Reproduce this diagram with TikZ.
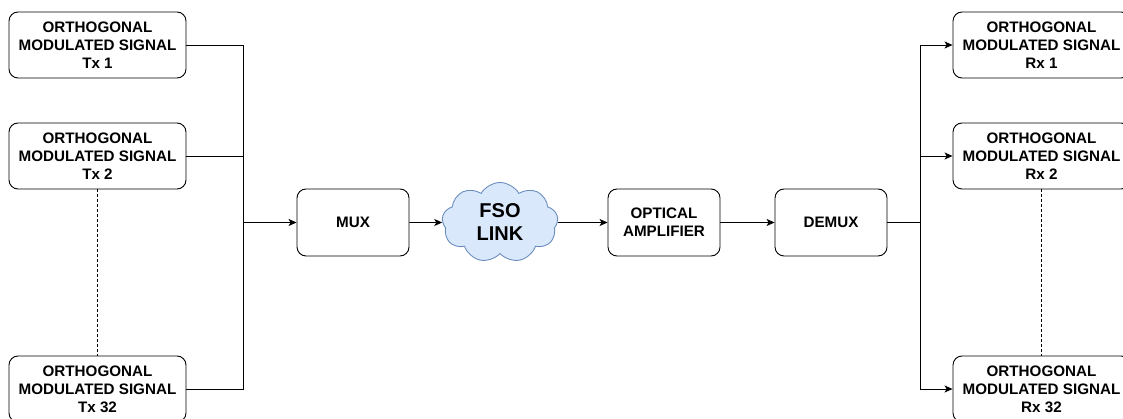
\documentclass[tikz,border=0pt]{standalone}
\usepackage{fontspec}
\setmainfont{Liberation Sans}
\usetikzlibrary{shapes.symbols,arrows.meta}
\definecolor{cloudfill}{HTML}{DAE8FC}
\definecolor{cloudline}{HTML}{6C8EBF}
\begin{document}
\begin{tikzpicture}[x=1pt,y=-1pt,
  every path/.style={line width=0.9pt},
  box/.style={draw=black, rounded corners=9pt, minimum width=177pt, minimum height=66pt,
    inner sep=0pt, align=center, font=\fontsize{15.2}{17.8}\selectfont\bfseries},
  mid/.style={box, minimum width=112pt, minimum height=67pt},
  arr/.style={-{Stealth[length=8pt,width=7pt,inset=2pt]}},
  ln/.style={draw=black}]
\useasboundingbox (0,0) rectangle (1123,419);
% transmitters
\node[box] (tx1) at (97.5,45) {ORTHOGONAL\\MODULATED SIGNAL\\Tx 1};
\node[box] (tx2) at (97.5,156) {ORTHOGONAL\\MODULATED SIGNAL\\Tx 2};
\node[box] (tx32) at (97.5,389) {ORTHOGONAL\\MODULATED SIGNAL\\Tx 32};
% receivers
\node[box] (rx1) at (1041.5,45) {ORTHOGONAL\\MODULATED SIGNAL\\Rx 1};
\node[box] (rx2) at (1041.5,156) {ORTHOGONAL\\MODULATED SIGNAL\\Rx 2};
\node[box] (rx32) at (1041.5,389) {ORTHOGONAL\\MODULATED SIGNAL\\Rx 32};
% chain
\node[mid] (mux) at (353,222.5) {MUX};
\node[cloud, cloud puffs=9, cloud puff arc=120, aspect=1.6, draw=cloudline, fill=cloudfill,
  minimum width=116pt, minimum height=80pt, inner sep=0pt, align=center,
  font=\fontsize{20}{23}\selectfont\bfseries] (fso) at (500,222.5) {FSO\\LINK};
\node[mid] (amp) at (664,222.5) {OPTICAL\\AMPLIFIER};
\node[mid] (demux) at (831,222.5) {DEMUX};
% buses
\coordinate (bl) at (243,222.5);
\coordinate (br) at (920,222.5);
\draw[ln] (tx1.east) -| (bl);
\draw[ln] (tx2.east) -| (bl);
\draw[ln] (tx32.east) -| (bl);
\draw[ln,arr] (bl) -- (mux.west);
\draw[ln,arr] (mux.east) -- (fso.west);
\draw[ln,arr] (fso.east) -- (amp.west);
\draw[ln,arr] (amp.east) -- (demux.west);
\draw[ln] (demux.east) -- (br);
\draw[ln,arr] (br) |- (rx1.west);
\draw[ln,arr] (br) |- (rx2.west);
\draw[ln,arr] (br) |- (rx32.west);
% dashed
\draw[ln,dashed,line width=0.6pt,dash pattern=on 3pt off 2pt] (tx2.south) -- (tx32.north);
\draw[ln,dashed,line width=0.6pt,dash pattern=on 3pt off 2pt] (rx2.south) -- (rx32.north);
\end{tikzpicture}
\end{document}
